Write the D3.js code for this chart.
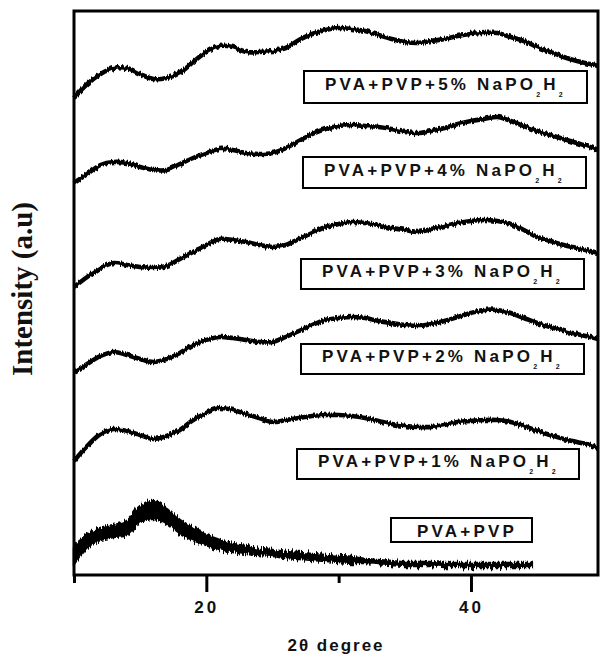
<!DOCTYPE html>
<html>
<head>
<meta charset="utf-8">
<script src="https://cdn.jsdelivr.net/npm/d3@7/dist/d3.min.js"></script>
<style>
  body { margin: 0; background: #fff; }
  svg { display: block; }
</style>
</head>
<body>
<svg id="chart" width="601" height="655"></svg>
<script>
// 2θ positions (degree) the doped patterns were read at
const twoTheta = [10, 11, 12, 13, 14, 15, 16, 17, 18, 19, 20, 21, 22, 23, 24, 25, 26, 27, 28, 29,
                  30, 31, 32, 33, 34, 35, 36, 37, 38, 39, 40, 41, 42, 43, 44, 45, 46, 47, 48, 49, 49.6];

// intensity (a.u.), already stacked with the offset used in the figure
const int5 = [477, 491, 501, 507, 507, 501, 496, 497, 502, 513, 523, 529, 528, 523, 523, 524, 527, 535, 541, 545,
              547, 546, 544, 540, 536, 533, 532, 534, 536, 539, 541, 542, 542, 538, 534, 528, 523, 518, 514, 511, 509];
const int4 = [392, 401, 410, 413, 412, 408, 405, 405, 411, 417, 422, 426, 425, 422, 421, 422, 427, 434, 441, 446,
              449, 450, 449, 448, 446, 443, 442, 444, 447, 451, 454, 456, 458, 454, 449, 444, 440, 436, 432, 428, 425];
const int3 = [288, 298, 307, 312, 310, 308, 307, 309, 316, 323, 330, 336, 335, 333, 330, 328, 330, 336, 342, 348,
              351, 353, 352, 350, 347, 345, 343, 346, 349, 352, 354, 355, 354, 351, 345, 338, 334, 330, 327, 324, 322];
const int2 = [203, 211, 219, 223, 220, 216, 213, 216, 222, 230, 235, 238, 237, 235, 233, 233, 238, 244, 250, 255,
              257, 258, 257, 254, 252, 250, 249, 251, 254, 258, 262, 265, 265, 262, 257, 252, 248, 244, 241, 238, 236];
const int1 = [114, 129, 141, 146, 144, 140, 136, 139, 145, 155, 162, 167, 165, 161, 157, 153, 155, 157, 159, 160,
              160, 159, 157, 154, 151, 149, 148, 148, 150, 153, 154, 155, 155, 153, 149, 144, 140, 136, 133, 130, 127];

// undoped blend: shorter scan, noisier
const pvaPvpAngles = [10, 11, 12, 13, 14, 15, 16, 17, 18, 19, 20, 21, 22, 23, 24, 25, 26, 27, 28, 29,
                      30, 31, 32, 33, 34, 35, 36, 37, 38, 39, 40, 41, 42, 43, 44, 44.6];
const pvaPvp = [20, 34, 41, 44, 47, 61, 65, 59, 48, 41, 35, 30, 27, 25, 23, 22, 20, 19, 18, 17,
                16, 15, 14, 13, 12, 11, 11, 11, 10, 10, 10, 10, 10, 10, 10, 10];
const pvaPvpNoise = [9, 6, 6, 6, 7, 8, 9, 8, 7, 6, 5, 5, 4, 4, 3, 3, 3, 3, 3, 3,
                     3, 3, 2, 2, 2, 2, 2, 2, 2, 2, 2, 2, 2, 2, 2, 2];

const dopings = ['5%', '4%', '3%', '2%', '1%'];
const dopedSeries = [int5, int4, int3, int2, int1];

// label boxes, top to bottom (last one is the plain blend)
const boxes = [
    { x: 304, y: 71, w: 283, h: 32 },
    { x: 303, y: 157, w: 283, h: 31 },
    { x: 301, y: 259, w: 283, h: 30 },
    { x: 301, y: 344, w: 283, h: 30 },
    { x: 297, y: 449, w: 282, h: 30 },
    { x: 391, y: 518, w: 141, h: 24 }
];

const svg = d3.select('#chart');
svg.append('rect').attr('width', 601).attr('height', 655).attr('fill', '#fff');

// rough, counter-like edge on the traces (pure styling, vertical jitter only)
const defs = svg.append('defs');
function jitter(id, amount) {
    const f = defs.append('filter').attr('id', id)
        .attr('filterUnits', 'userSpaceOnUse')
        .attr('x', 0).attr('y', 0).attr('width', 601).attr('height', 655);
    f.append('feTurbulence')
        .attr('type', 'fractalNoise')
        .attr('baseFrequency', '0.7 0.05')
        .attr('numOctaves', 1)
        .attr('seed', 3)
        .attr('result', 'noise');
    f.append('feColorMatrix')
        .attr('in', 'noise')
        .attr('type', 'matrix')
        .attr('values', '0 0 0 0 0.5  0 1 0 0 0  0 0 0 0 0  0 0 0 0 1')
        .attr('result', 'map');
    f.append('feDisplacementMap')
        .attr('in', 'SourceGraphic')
        .attr('in2', 'map')
        .attr('scale', amount)
        .attr('xChannelSelector', 'R')
        .attr('yChannelSelector', 'G');
}
jitter('rough', 6);
jitter('rougher', 11);

const x = d3.scaleLinear().domain([10, 49.6]).range([74, 598]);
const y = d3.scaleLinear().domain([0, 564]).range([575, 11]);

const line = d3.line()
    .x(d => x(d[0]))
    .y(d => y(d[1]))
    .curve(d3.curveCatmullRom.alpha(0.5));

// doped curves
svg.append('g')
    .attr('filter', 'url(#rough)')
    .selectAll('path')
    .data(dopedSeries)
    .join('path')
    .attr('d', s => line(s.map((v, i) => [twoTheta[i], v])))
    .attr('fill', 'none')
    .attr('stroke', '#000')
    .attr('stroke-width', 4.6)
    .attr('stroke-linejoin', 'round');

// PVA+PVP as a band, its noise is much larger
const band = d3.area()
    .x(d => x(d.a))
    .y0(d => y(d.v - d.n))
    .y1(d => y(d.v + d.n))
    .curve(d3.curveCatmullRom.alpha(0.5));

svg.append('path')
    .datum(pvaPvpAngles.map((a, i) => ({ a, v: pvaPvp[i], n: pvaPvpNoise[i] })))
    .attr('d', band)
    .attr('filter', 'url(#rougher)')
    .attr('fill', '#000')
    .attr('stroke', '#000')
    .attr('stroke-width', 2.5);

// frame
svg.append('rect')
    .attr('x', 74).attr('y', 11)
    .attr('width', 598 - 74).attr('height', 575 - 11)
    .attr('fill', 'none')
    .attr('stroke', '#000')
    .attr('stroke-width', 3);

// minor + major ticks
const minor = svg.append('g')
    .attr('transform', 'translate(0,575)')
    .call(d3.axisBottom(x).tickValues([10, 30]).tickSize(8).tickFormat(''));
const major = svg.append('g')
    .attr('transform', 'translate(0,575)')
    .call(d3.axisBottom(x).tickValues([20, 40]).tickSize(17).tickPadding(9).tickFormat(d3.format('d')));

[minor, major].forEach(g => {
    g.select('.domain').remove();
    g.selectAll('line').attr('stroke', '#000').attr('stroke-width', 3);
});
major.selectAll('text')
    .attr('fill', '#111')
    .style('font', 'bold 17px "Liberation Sans", Arial, sans-serif')
    .style('letter-spacing', '3px');

// axis titles
svg.append('text')
    .attr('x', 336).attr('y', 651)
    .attr('text-anchor', 'middle')
    .attr('fill', '#111')
    .style('font', 'bold 17px "Liberation Sans", Arial, sans-serif')
    .style('letter-spacing', '2px')
    .text('2θ degree');

svg.append('text')
    .attr('transform', 'translate(32,289) rotate(-90)')
    .attr('text-anchor', 'middle')
    .attr('fill', '#111')
    .style('font', 'bold 29px "Liberation Serif", "Times New Roman", serif')
    .text('Intensity (a.u)');

// labels in boxes
const lab = svg.append('g')
    .selectAll('g')
    .data(boxes)
    .join('g');

lab.append('rect')
    .attr('x', b => b.x).attr('y', b => b.y)
    .attr('width', b => b.w).attr('height', b => b.h)
    .attr('fill', '#fff')
    .attr('stroke', '#000')
    .attr('stroke-width', 2);

lab.each(function (b, i) {
    const t = d3.select(this).append('text')
        .attr('fill', '#111')
        .style('font', 'bold 17px "Liberation Sans", Arial, sans-serif')
        .style('letter-spacing', '3.2px');
    if (i < dopings.length) {
        t.attr('x', b.x + 21).attr('y', b.y + b.h / 2 + 3);
        t.append('tspan').text(`PVA+PVP+${dopings[i]} NaPO`);
        t.append('tspan').attr('dy', 7).style('font-size', '7px').text('2');
        t.append('tspan').attr('dy', -7).text('H');
        t.append('tspan').attr('dy', 7).style('font-size', '7px').text('2');
    } else {
        t.attr('x', b.x + 26).attr('y', b.y + b.h / 2 + 7).text('PVA+PVP');
    }
});
</script>
</body>
</html>
